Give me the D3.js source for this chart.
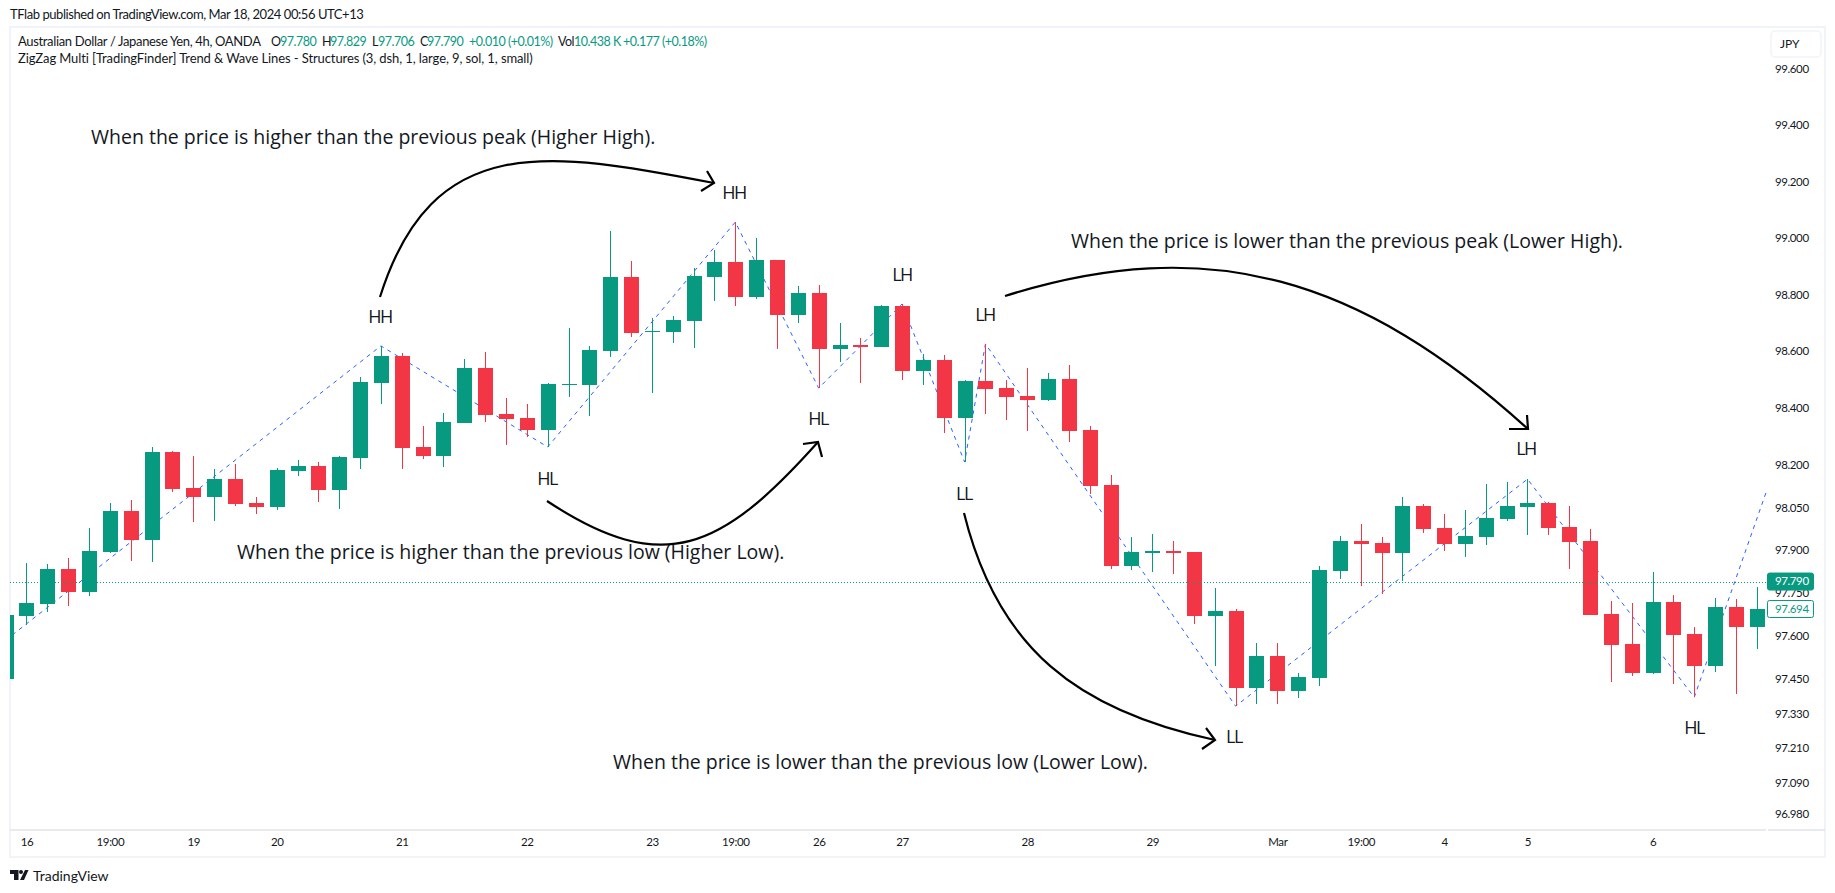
<!DOCTYPE html>
<html>
<head>
<meta charset="utf-8">
<script src="https://cdn.jsdelivr.net/npm/d3@7"></script>
<style>
html, body { margin: 0; padding: 0; background: #fff; overflow: hidden; }
text { font-family: Lato, "Noto Sans", sans-serif; fill: #131722; }
</style>
</head>
<body>
<svg id="chart" width="1835" height="893"></svg>
<script>
// candles, oldest first. first one is cut off by the left edge
const opens = [97.449,97.669,97.711,97.834,97.754,97.894,98.037,97.936,98.244,98.118,98.086,98.149,98.065,98.051,98.177,98.195,98.111,98.223,98.487,98.582,98.262,98.230,98.346,98.540,98.378,98.364,98.322,98.480,98.480,98.600,98.861,98.667,98.667,98.706,98.861,98.914,98.791,98.922,98.727,98.805,98.607,98.621,98.614,98.759,98.529,98.568,98.364,98.494,98.469,98.441,98.427,98.501,98.322,98.128,97.845,97.890,97.897,97.894,97.669,97.687,97.418,97.529,97.407,97.453,97.827,97.932,97.925,97.890,98.055,97.978,97.922,97.946,98.009,98.051,98.065,97.981,97.932,97.676,97.571,97.470,97.718,97.606,97.495,97.701,97.631];
const highs = [97.673,97.855,97.852,97.872,97.978,98.065,98.076,98.262,98.248,98.230,98.184,98.202,98.086,98.188,98.216,98.209,98.230,98.508,98.618,98.593,98.336,98.381,98.572,98.597,98.434,98.413,98.487,98.681,98.618,99.024,98.918,98.716,98.724,98.893,98.957,99.056,98.999,98.922,98.829,98.833,98.699,98.646,98.762,98.766,98.589,98.586,98.498,98.625,98.498,98.540,98.522,98.551,98.336,98.163,97.946,97.957,97.932,97.894,97.768,97.694,97.575,97.575,97.470,97.845,97.950,97.992,97.946,98.086,98.062,98.027,98.041,98.132,98.139,98.149,98.069,98.055,97.974,97.722,97.715,97.824,97.744,97.631,97.733,97.730,97.771];
const lows = [97.449,97.638,97.683,97.704,97.741,97.890,97.862,97.859,98.104,97.999,98.002,98.055,98.027,98.041,98.160,98.069,98.044,98.184,98.413,98.184,98.220,98.191,98.346,98.350,98.269,98.297,98.262,98.438,98.371,98.579,98.649,98.452,98.628,98.611,98.776,98.759,98.783,98.607,98.699,98.469,98.561,98.487,98.614,98.498,98.480,98.311,98.209,98.378,98.357,98.318,98.423,98.279,98.097,97.834,97.831,97.824,97.817,97.641,97.495,97.355,97.362,97.362,97.383,97.425,97.799,97.775,97.747,97.792,97.960,97.897,97.876,97.918,98.002,97.953,97.953,97.834,97.673,97.439,97.460,97.467,97.432,97.386,97.474,97.397,97.554];
const closes = [97.673,97.715,97.834,97.754,97.897,98.037,97.936,98.244,98.114,98.086,98.149,98.062,98.051,98.181,98.195,98.111,98.227,98.491,98.582,98.258,98.230,98.350,98.540,98.374,98.360,98.322,98.484,98.484,98.604,98.861,98.664,98.671,98.709,98.865,98.914,98.791,98.922,98.727,98.805,98.607,98.621,98.614,98.759,98.529,98.568,98.364,98.494,98.466,98.438,98.427,98.501,98.318,98.125,97.845,97.894,97.897,97.890,97.669,97.687,97.418,97.529,97.407,97.456,97.831,97.932,97.922,97.890,98.055,97.974,97.922,97.950,98.013,98.055,98.065,97.978,97.929,97.673,97.568,97.470,97.718,97.603,97.495,97.701,97.631,97.694];

// zigzag indicator turning points (bar number, price)
const zigzagBars = [0,18,26,35,39,43,46,47,59,73,81,84.5];
const zigzagPrices = [97.585,98.618,98.262,99.056,98.469,98.766,98.209,98.625,97.355,98.149,97.386,98.114];

// axis labels
const priceTicks = [99.6,99.4,99.2,99.0,98.8,98.6,98.4,98.2,98.05,97.9,97.75,97.6,97.45,97.33,97.21,97.09,96.98];
const dateTickBars = [1,5,9,13,19,25,31,35,39,43,49,55,61,65,69,73,79];
const dateTickLabels = ["16","19:00","19","20","21","22","23","19:00","26","27","28","29","Mar","19:00","4","5","6"];

const lastPrice = 97.790;
const currentPrice = 97.694;

const legendNames = ["O","H","L","C"];
const legendValues = ["97.780","97.829","97.706","97.790"];

const green = "#089981";
const red = "#f23645";
const borderColor = "#f0f3fa";

const svg = d3.select("#chart");

// the price axis is logarithmic, spacing between labels is not even
const x = d3.scaleLinear().domain([0, 84]).range([5.65, 1756.8]);
const y = d3.scaleLog().domain([96.98, 99.6]).range([814, 69]);

// panel frame
svg.append("rect").attr("x", 10).attr("y", 27).attr("width", 1815).attr("height", 830)
    .attr("fill", "none").attr("stroke", borderColor).attr("stroke-width", 2);
svg.append("line").attr("x1", 10).attr("x2", 1766).attr("y1", 830).attr("y2", 830)
    .attr("stroke", "#e0e3eb").attr("stroke-width", 1.5);
svg.append("line").attr("x1", 1768).attr("x2", 1825).attr("y1", 830).attr("y2", 830)
    .attr("stroke", "#e0e3eb").attr("stroke-width", 1.5);

// keep the marks inside the pane
svg.append("clipPath").attr("id", "pane").append("rect")
    .attr("x", 10).attr("y", 28).attr("width", 1757).attr("height", 802);
const pane = svg.append("g").attr("clip-path", "url(#pane)");

// zigzag goes behind the candles
const zigzagLine = d3.line().x(d => x(d[0])).y(d => y(d[1]));
pane.append("path")
    .attr("d", zigzagLine(d3.zip(zigzagBars, zigzagPrices)))
    .attr("fill", "none")
    .attr("stroke", "#2962ff")
    .attr("stroke-width", 1)
    .attr("stroke-dasharray", "4 4.5");

// candles
const bars = d3.range(opens.length);
const barColor = i => closes[i] >= opens[i] ? green : red;

pane.selectAll("line.wick").data(bars).join("line")
    .attr("class", "wick")
    .attr("x1", i => Math.round(x(i)) + 0.5)
    .attr("x2", i => Math.round(x(i)) + 0.5)
    .attr("y1", i => y(highs[i]))
    .attr("y2", i => y(lows[i]))
    .attr("stroke", barColor)
    .attr("stroke-width", 1)
    .attr("shape-rendering", "crispEdges");

pane.selectAll("rect.body").data(bars).join("rect")
    .attr("class", "body")
    .attr("x", i => Math.round(x(i)) - 7)
    .attr("width", 15)
    .attr("y", i => y(Math.max(opens[i], closes[i])))
    .attr("height", i => Math.abs(y(opens[i]) - y(closes[i])))
    .attr("fill", barColor)
    .attr("shape-rendering", "crispEdges");

// last price dotted line
pane.append("line")
    .attr("x1", 10).attr("x2", 1767)
    .attr("y1", Math.round(y(lastPrice)) + 0.5).attr("y2", Math.round(y(lastPrice)) + 0.5)
    .attr("stroke", green).attr("stroke-width", 1).attr("stroke-dasharray", "1 2")
    .attr("shape-rendering", "crispEdges");

// numbers are narrower in the original font so squeeze them a bit
function smallNumbers(sel) {
    sel.style("font-family", "Lato").style("font-size", "11.5px").style("letter-spacing", "-0.4px").attr("fill", "#131722");
}

// price axis
const priceAxis = svg.append("g")
    .attr("transform", "translate(1767,0)")
    .call(d3.axisRight(y).tickValues(priceTicks).tickFormat(d3.format(".3f")).tickSize(0).tickPadding(8));
priceAxis.select(".domain").remove();
priceAxis.selectAll("text").call(smallNumbers);

// time axis
const timeAxis = svg.append("g")
    .attr("transform", "translate(0,830)")
    .call(d3.axisBottom(x).tickValues(dateTickBars).tickFormat((d, i) => dateTickLabels[i]).tickSize(0).tickPadding(8));
timeAxis.select(".domain").remove();
timeAxis.selectAll("text").call(smallNumbers);

// price labels on the scale
function priceTag(price, fill, textColor) {
    svg.append("rect").attr("x", 1767.5).attr("y", y(price) - 8.5).attr("width", 46).attr("height", 17)
        .attr("rx", 2).attr("fill", fill).attr("stroke", green);
    svg.append("text").attr("x", 1775).attr("y", y(price)).attr("dy", "0.34em")
        .style("font-size", "11.5px").style("letter-spacing", "-0.4px").style("fill", textColor)
        .text(d3.format(".3f")(price));
}
priceTag(lastPrice, green, "#fff");
priceTag(currentPrice, "#fff", green);

// currency button
svg.append("rect").attr("x", 1771).attr("y", 31).attr("width", 50).attr("height", 26).attr("rx", 4)
    .attr("fill", "#fff").attr("stroke", borderColor).attr("stroke-width", 1.5);
svg.append("text").attr("x", 1780).attr("y", 48).style("font-size", "12px").text("JPY");

// header lines
svg.append("text").attr("x", 10).attr("y", 19).style("font-size", "13px").style("letter-spacing", "-0.44px")
    .text("TFlab published on TradingView.com, Mar 18, 2024 00:56 UTC+13");

svg.append("text").attr("x", 18).attr("y", 46).style("font-size", "13px").style("letter-spacing", "-0.34px")
    .text("Australian Dollar / Japanese Yen, 4h, OANDA");

function legendPiece(px, str, color) {
    svg.append("text").attr("x", px).attr("y", 46).style("font-size", "12.5px")
        .style("letter-spacing", "-0.5px").style("fill", color).text(str);
}
[271, 322, 372, 420].forEach((px, i) => legendPiece(px, legendNames[i], "#131722"));
[280, 330, 378, 427].forEach((px, i) => legendPiece(px, legendValues[i], green));
legendPiece(469, "+0.010 (+0.01%)", green);
legendPiece(558, "Vol", "#131722");
legendPiece(574, "10.438 K", green);
legendPiece(623, "+0.177 (+0.18%)", green);

svg.append("text").attr("x", 18).attr("y", 63).style("font-size", "13px").style("letter-spacing", "-0.1px")
    .text("ZigZag Multi [TradingFinder] Trend & Wave Lines - Structures (3, dsh, 1, large, 9, sol, 1, small)");

// explanation notes
function note(px, py, str) {
    svg.append("text").attr("x", px).attr("y", py).attr("dy", "0.32em")
        .style("font-family", "Open Sans").style("font-size", "19.5px").text(str);
}
note(91, 138, "When the price is higher than the previous peak (Higher High).");
note(237, 553, "When the price is higher than the previous low (Higher Low).");
note(1071, 242, "When the price is lower than the previous peak (Lower High).");
note(613, 763, "When the price is lower than the previous low (Lower Low).");

// swing labels
function swing(px, py, str) {
    svg.append("text").attr("x", px).attr("y", py).attr("dy", "0.34em").attr("text-anchor", "middle")
        .style("font-family", "Open Sans").style("font-size", "18px").style("letter-spacing", "-1.5px").text(str);
}
swing(380, 317, "HH");
swing(734, 193, "HH");
swing(547, 479, "HL");
swing(818, 419, "HL");
swing(902, 275, "LH");
swing(985, 315, "LH");
swing(964, 494, "LL");
swing(1526, 449, "LH");
swing(1234, 737, "LL");
swing(1694, 728, "HL");

// hand drawn arrows, one bezier each plus an open head
function arrow(p0, p1, p2, p3, head) {
    const path = d3.path();
    path.moveTo(p0[0], p0[1]);
    path.bezierCurveTo(p1[0], p1[1], p2[0], p2[1], p3[0], p3[1]);
    svg.append("path").attr("d", path.toString()).attr("fill", "none")
        .attr("stroke", "#000").attr("stroke-width", 2.2);
    svg.append("path").attr("d", d3.line()(head)).attr("fill", "none")
        .attr("stroke", "#000").attr("stroke-width", 2.2);
}
arrow([380,297], [432.5,130.7], [547.4,150.7], [714,183], [[707,171],[714,183],[701,191]]);
arrow([547,501], [663.5,578], [721.5,550], [818,442], [[803,444],[818,442],[822,457]]);
arrow([1005,296], [1209,231.5], [1361.5,278], [1528,429], [[1509,429],[1528,429],[1527,415]]);
arrow([964,513], [997.6,648.8], [1077.8,710.6], [1215,740], [[1206,728],[1215,740],[1202,749]]);

// TradingView logo and name
svg.append("path").attr("d", "M10 870H18.5V880H14V874H10Z M25 870H28.5L24 880H20Z").attr("fill", "#131722");
svg.append("circle").attr("cx", 21).attr("cy", 872).attr("r", 2).attr("fill", "#131722");
svg.append("text").attr("x", 33).attr("y", 881).style("font-size", "14px").text("TradingView");
</script>
</body>
</html>
